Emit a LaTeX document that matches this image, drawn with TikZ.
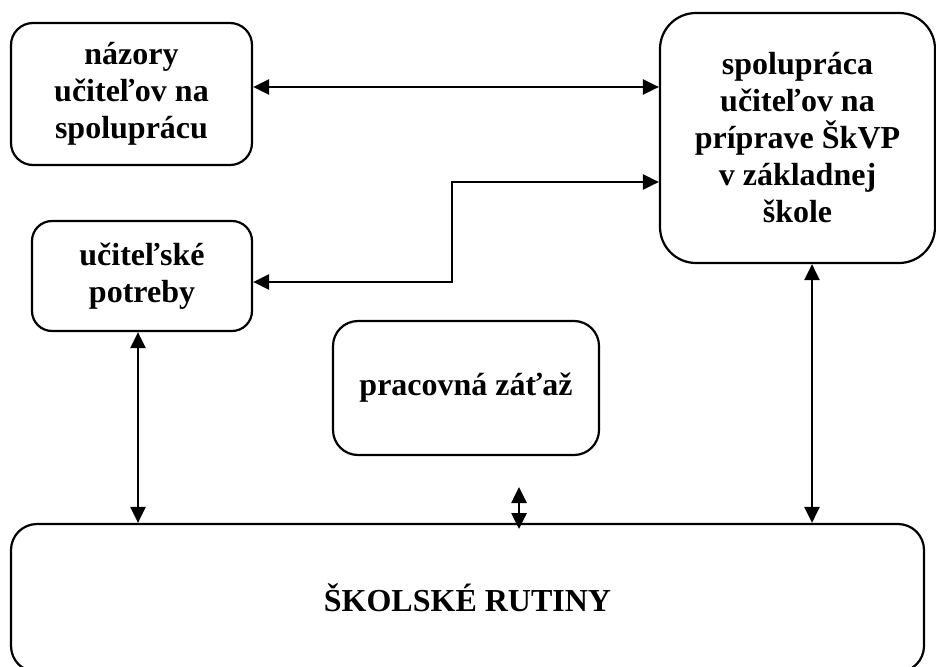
\documentclass[tikz,border=0pt]{standalone}
\usepackage{fontspec}
\setmainfont{Liberation Serif}
\usetikzlibrary{arrows.meta}
\begin{document}
\begin{tikzpicture}[x=1pt,y=-1pt,
  box/.style={draw,line width=2.2pt,rounded corners=#1,align=center,
    font=\bfseries\fontsize{32}{37}\selectfont,inner sep=0pt},
  box/.default=22pt,
  arr/.style={line width=2.6pt,{Triangle[length=16pt,width=15pt]}-{Triangle[length=16pt,width=15pt]}}]
\useasboundingbox[fill=white] (0,0) rectangle (936,666);
\node[box=22pt,minimum width=241pt,minimum height=142pt] (A) at (131.5,94) {názory\\učiteľov na\\spoluprácu};
\node[box=36pt,minimum width=275pt,minimum height=250pt] (B) at (797.5,138) {spolupráca\\učiteľov na\\príprave ŠkVP\\v základnej\\škole};
\node[box=20pt,minimum width=220pt,minimum height=110pt] (C) at (142,276) {učiteľské\\potreby};
\node[box=25pt,minimum width=266pt,minimum height=134pt] (D) at (466,388) {pracovná záťaž};
\node[box=26pt,minimum width=913pt,minimum height=148pt] (E) at (467.5,598) {ŠKOLSKÉ RUTINY};
\coordinate (ya) at (0,87);
\coordinate (yb) at (0,182);
\coordinate (yc) at (0,282);
\coordinate (xc) at (452,0);
\coordinate (d1) at (519,487);
\coordinate (d2) at (519,529);
\coordinate (xe) at (138,0);
\coordinate (xb) at (812,0);
\draw[arr] (A.east |- ya) -- (B.west |- ya);
\draw[arr] (B.west |- yb) -- (xc |- yb) -- (xc |- yc) -- (C.east |- yc);
\draw[arr] (C.south -| xe) -- (E.north -| xe);
\draw[arr] (B.south -| xb) -- (E.north -| xb);
\draw[arr] (d1) -- (d2);
\end{tikzpicture}
\end{document}
